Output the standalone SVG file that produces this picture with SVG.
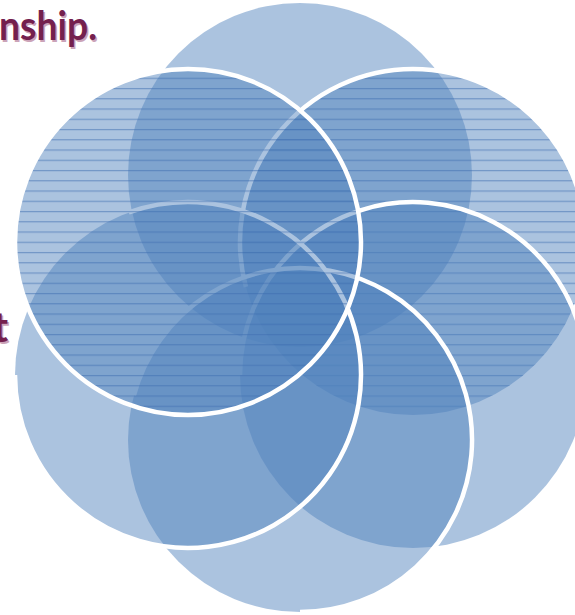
<svg xmlns="http://www.w3.org/2000/svg" width="575" height="615" viewBox="0 0 575 615">
  <defs>
    <!-- fine horizontal rules used on the two upper side circles -->
    <pattern id="rules" patternUnits="userSpaceOnUse" x="0" y="77.7" width="20" height="10.25">
      <rect x="0" y="0" width="20" height="1.2" fill="#3F6FB0" fill-opacity="0.55"/>
    </pattern>
    <style>
      .disc { fill: #4F81BD; fill-opacity: 0.48; }
      .ruled { fill: url(#rules); }
      .rim { fill: none; stroke: #FFFFFF; stroke-width: 4.5; }
      .title { font-family: "Gill Sans", "Lato", "Liberation Sans", sans-serif; font-weight: 700; fill: #74204E; }
      .title-shadow { font-family: "Gill Sans", "Lato", "Liberation Sans", sans-serif; font-weight: 700; fill: #CBA3B8; }
    </style>
  </defs>

  <rect width="575" height="615" fill="#FFFFFF"/>

  <!-- slide heading fragments -->
  <g id="heading">
    <text class="title-shadow" x="0.5" y="41.5" font-size="40" textLength="98" lengthAdjust="spacingAndGlyphs">nship.</text>
    <text class="title" x="-1" y="40" font-size="40" textLength="98" lengthAdjust="spacingAndGlyphs">nship.</text>
    <text class="title-shadow" x="9.5" y="343.5" font-size="42" text-anchor="end">t</text>
    <text class="title" x="8" y="342" font-size="42" text-anchor="end">t</text>
  </g>

  <!-- petal circles, back to front -->
  <g id="circle-top">
    <circle class="disc" cx="300" cy="175" r="172"/>
  </g>

  <g id="circle-upper-right">
    <circle class="disc" cx="413" cy="242" r="173"/>
    <circle class="ruled" cx="413" cy="242" r="173"/>
    <path class="rim" d="M245.9,286.8 A173,173 0 1 1 580.1,286.8"/>
  </g>

  <g id="circle-lower-right">
    <circle class="disc" cx="413" cy="375" r="173"/>
    <path class="rim" d="M240,375 A173,173 0 1 1 583.4,405"/>
  </g>

  <g id="circle-bottom">
    <circle class="disc" cx="300" cy="440" r="172"/>
    <path class="rim" d="M133.9,395.5 A172,172 0 1 1 300,612"/>
  </g>

  <g id="circle-lower-left">
    <circle class="disc" cx="188" cy="375" r="173"/>
    <path class="rim" d="M128.8,212.4 A173,173 0 1 1 15,375"/>
  </g>

  <g id="circle-upper-left">
    <circle class="disc" cx="188" cy="242" r="173"/>
    <circle class="ruled" cx="188" cy="242" r="173"/>
    <circle class="rim" cx="188" cy="242" r="173"/>
  </g>

  <g id="connectors"/>
</svg>
